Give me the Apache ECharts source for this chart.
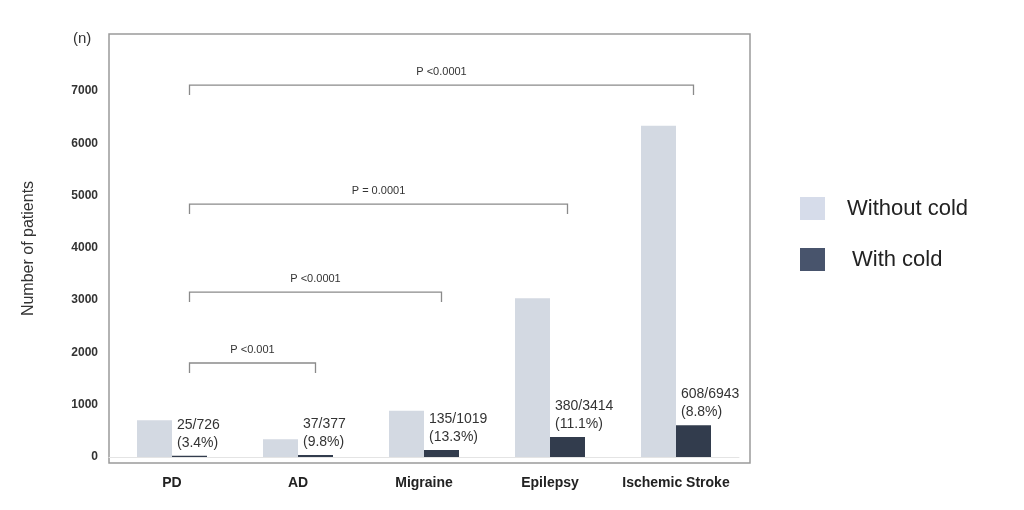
<!DOCTYPE html>
<html>
<head>
<meta charset="utf-8">
<script src="https://cdn.jsdelivr.net/npm/echarts@6/dist/echarts.min.js"></script>
<style>
html, body { margin: 0; padding: 0; background: #fff; }
#main { width: 1024px; height: 510px; }
</style>
</head>
<body>
<div id="main"></div>
<script>
// data
var categories = ['PD', 'AD', 'Migraine', 'Epilepsy', 'Ischemic Stroke'];
var withoutCold = [701, 340, 884, 3034, 6335];
var withCold = [25, 37, 135, 380, 608];
var totals = [726, 377, 1019, 3414, 6943];
var percents = ['3.4%', '9.8%', '13.3%', '11.1%', '8.8%'];
var yTicks = [0, 1000, 2000, 3000, 4000, 5000, 6000, 7000];

// comparison brackets: from category, to category, height, p text
var bracketFrom = [0, 0, 0, 0];
var bracketTo = [4, 3, 2, 1];
var bracketY = [7114, 4838, 3155, 1798];
var bracketText = ['P <0.0001', 'P = 0.0001', 'P <0.0001', 'P <0.001'];

var BAR_W = 35;
var FONT = '"Liberation Sans", Arial, Helvetica, sans-serif';

var myChart = echarts.init(document.getElementById('main'));

var bracketData = [];
for (var i = 0; i < bracketY.length; i++) {
	bracketData.push([bracketFrom[i], bracketTo[i], bracketY[i], bracketText[i]]);
}

option = {
	animation: false,
	title: {
		text: '(n)',
		left: 68,
		top: 26,
		textStyle: { fontFamily: FONT, fontSize: 15, fontWeight: 'normal', color: '#333' }
	},
	legend: {
		data: [{
			name: 'Without cold',
			itemStyle: { color: '#d6dcea' }
		}, {
			name: 'With cold',
			itemStyle: { color: '#48546c' },
			textStyle: { padding: [0, 0, 0, 22] }
		}],
		orient: 'vertical',
		left: 795,
		top: 192,
		itemWidth: 25,
		itemHeight: 23,
		itemGap: 28,
		icon: 'rect',
		textStyle: { fontFamily: FONT, fontSize: 22, color: '#222', padding: [0, 0, 0, 17] }
	},
	graphic: [{
		type: 'rect',
		shape: { x: 109, y: 34, width: 641, height: 429 },
		style: { fill: 'none', stroke: '#9a9a9a', lineWidth: 1.5 },
		silent: true,
		z: 0
	}],
	grid: {
		left: 109,
		right: 285,
		top: 34,
		bottom: 47
	},
	xAxis: {
		type: 'category',
		data: categories,
		axisLine: { show: true, onZero: true, lineStyle: { color: '#e4e4e4', width: 1 } },
		axisTick: { show: false },
		axisLabel: {
			interval: 0,
			margin: 13,
			fontFamily: FONT,
			fontSize: 14,
			fontWeight: 'bold',
			color: '#222'
		}
	},
	yAxis: {
		type: 'value',
		min: -115,
		max: 8090,
		name: 'Number of patients',
		nameLocation: 'middle',
		nameRotate: 90,
		nameGap: 72,
		nameTextStyle: { fontFamily: FONT, fontSize: 16, color: '#333' },
		axisLine: { show: false },
		axisTick: { show: false },
		splitLine: { show: false },
		axisLabel: {
			customValues: yTicks,
			formatter: function (v) { return String(v); },
			margin: 11,
			fontFamily: FONT,
			fontSize: 12,
			fontWeight: 'bold',
			color: '#333'
		}
	},
	series: [{
		name: 'Without cold',
		type: 'bar',
		data: withoutCold,
		barWidth: BAR_W,
		barGap: '0%',
		itemStyle: { color: '#d3d9e2' }
	}, {
		name: 'With cold',
		type: 'bar',
		data: withCold,
		barWidth: BAR_W,
		itemStyle: { color: '#323c4d' },
		label: {
			show: true,
			position: [5, -4],
			align: 'left',
			verticalAlign: 'bottom',
			fontFamily: FONT,
			fontSize: 14,
			lineHeight: 18,
			color: '#333',
			formatter: function (p) {
				return withCold[p.dataIndex] + '/' + totals[p.dataIndex] + '\n(' + percents[p.dataIndex] + ')';
			}
		}
	}, {
		type: 'custom',
		data: bracketData,
		silent: true,
		z: 5,
		encode: { x: [0, 1], y: 2 },
		renderItem: function (params, api) {
			var a = api.coord([api.value(0), api.value(2)]);
			var b = api.coord([api.value(1), api.value(2)]);
			var x1 = a[0] + BAR_W / 2, x2 = b[0] + BAR_W / 2, y = a[1];
			var tick = 10;
			return {
				type: 'group',
				children: [{
					type: 'polyline',
					shape: { points: [[x1, y + tick], [x1, y], [x2, y], [x2, y + tick]] },
					style: { fill: 'none', stroke: '#8a8a8a', lineWidth: 1.3 }
				}, {
					type: 'text',
					style: {
						x: (x1 + x2) / 2,
						y: y - 13,
						text: bracketText[params.dataIndex],
						align: 'center',
						verticalAlign: 'middle',
						fontFamily: FONT,
						fontSize: 11,
						fill: '#333'
					}
				}]
			};
		}
	}]
};

myChart.setOption(option);
</script>
</body>
</html>
